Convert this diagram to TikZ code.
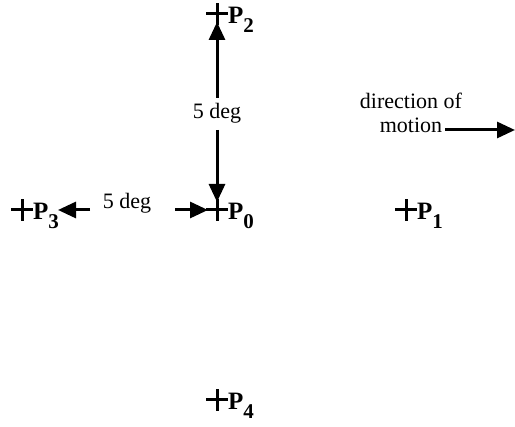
\documentclass[tikz,border=0pt]{standalone}
\usepackage{fontspec}
\setmainfont{Liberation Serif}
\usetikzlibrary{arrows.meta}
\newcommand{\plab}[1]{P\raisebox{-9pt}{\fontsize{21}{21}\selectfont #1}}
\begin{document}
\begin{tikzpicture}[x=1pt,y=-1pt,
  cross/.style={line width=3pt},
  arr/.style={line width=3pt,-{Triangle[length=18pt,width=16pt]}},
  plabel/.style={anchor=base west,inner sep=0pt,font=\fontsize{25}{27}\selectfont\bfseries},
  txt/.style={font=\fontsize{22}{24}\selectfont,align=center,inner sep=0pt}]
\useasboundingbox (0,0) rectangle (515,427);
% points
\coordinate (P0) at (217,210);
\coordinate (P1) at (406,210);
\coordinate (P2) at (217,14);
\coordinate (P3) at (22,210);
\coordinate (P4) at (217,400);
\foreach \p in {P0,P1,P2,P3,P4}{
  \draw[cross] ([xshift=-11pt]\p) -- ([xshift=11pt]\p);
  \draw[cross] ([yshift=-11pt]\p) -- ([yshift=11pt]\p);
}
\node[plabel] (L0) at ([xshift=11pt,yshift=-10pt]P0) {\plab{0}};
\node[plabel] (L1) at ([xshift=11pt,yshift=-10pt]P1) {\plab{1}};
\node[plabel] (L2) at ([xshift=11pt,yshift=-10pt]P2) {\plab{2}};
\node[plabel] (L3) at ([xshift=11pt,yshift=-10pt]P3) {\plab{3}};
\node[plabel] (L4) at ([xshift=11pt,yshift=-10pt]P4) {\plab{4}};
% vertical 5 deg
\node[txt] (dv) at (217,113) {5 deg};
\coordinate (vUpS) at (217,98);
\coordinate (vUpE) at (217,22);
\coordinate (vDnS) at (217,130);
\coordinate (vDnE) at (217,202);
\draw[arr] (vUpS) -- (vUpE);
\draw[arr] (vDnS) -- (vDnE);
% horizontal 5 deg
\node[txt] (dh) at (127,203) {5 deg};
\coordinate (hLS) at (90,210);
\coordinate (hLE) at (58,210);
\coordinate (hRS) at (175,210);
\coordinate (hRE) at (208,210);
\draw[arr] (hLS) -- (hLE);
\draw[arr] (hRS) -- (hRE);
% direction of motion
\node[txt] (dm) at (411,113) {direction of\\motion};
\coordinate (mS) at (445,130);
\coordinate (mE) at (515,130);
\draw[arr] (mS) -- (mE);
\end{tikzpicture}
\end{document}
